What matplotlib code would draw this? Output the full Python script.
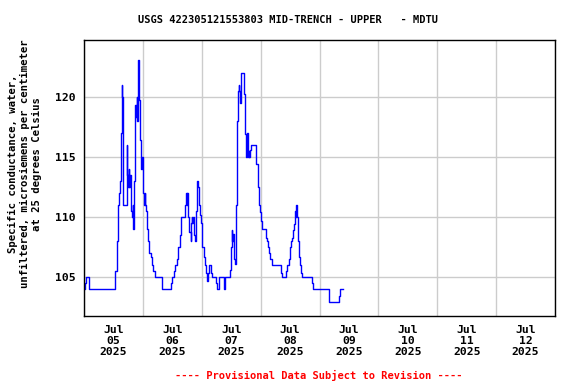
from datetime import datetime, timedelta
from matplotlib import pyplot as plt
import matplotlib.dates as mdates


START = datetime(2025, 7, 5)

# (hours since Jul 05 00:00, value) -- value holds until the next entry
hours = [
    0.0, 0.6, 1.0, 2.0, 12.8, 13.4, 14.0, 14.2, 14.5, 15.0, 15.3, 15.5, 15.6,
    15.9, 16.1, 17.4, 17.7, 17.9, 18.2, 18.5, 18.7, 19.0, 19.3, 19.6, 19.9,
    20.1, 20.4, 20.7, 20.9, 21.2, 21.5, 21.8, 22.0, 22.3, 22.6, 22.9, 23.1,
    23.4, 23.7, 24.0, 24.2, 24.5, 24.8, 25.0, 25.3, 25.5, 26.0, 26.6, 27.2,
    27.6, 28.3, 29.0, 31.6, 35.5, 35.9, 36.5, 37.0, 38.0, 38.5, 39.0, 39.6,
    41.3, 41.6, 41.9, 42.1, 42.4, 42.7, 43.0, 43.5, 43.7, 43.9, 44.2, 44.5,
    44.8, 45.1, 45.5, 45.8, 46.1, 46.4, 46.7, 47.0, 47.3, 47.6, 47.9, 48.3,
    48.8, 49.2, 49.7, 50.2, 50.6, 50.9, 51.8, 52.2, 53.9, 54.3, 55.0, 57.1,
    57.5, 59.5, 60.0, 60.3, 60.5, 60.7, 61.0, 61.3, 61.6, 61.9, 62.2, 62.5,
    62.8, 63.0, 63.3, 63.6, 63.8, 64.1, 65.1, 65.6, 65.9, 66.2, 66.5, 66.8,
    67.1, 67.4, 67.7, 68.1, 70.3, 70.8, 71.1, 71.4, 71.9, 72.2, 72.5, 74.1,
    74.6, 75.0, 75.4, 75.9, 76.5, 80.2, 80.6, 82.5, 82.9, 83.6, 84.1, 84.4,
    84.8, 85.2, 85.6, 85.9, 86.3, 86.6, 86.9, 87.2, 87.5, 87.9, 88.3, 88.7,
    92.9, 93.2, 99.9, 104.0, 104.3, 105.5,
]
values = [
    104, 104.5, 105, 104, 105.5, 108, 111, 112, 113, 117, 121, 117, 120,
    115, 111, 116, 113.5, 112.5, 114, 112.5, 113.5, 111.5, 110.5, 110, 111,
    109, 113, 117.7, 119.3, 118.3, 120, 118, 123, 120, 119.7, 116.4, 115,
    114, 115, 114, 112, 111, 112, 111, 110.5, 109, 108, 107, 106.7,
    106, 105.5, 105, 104, 104.5, 105, 105.5, 106, 106.5, 107.5, 108.5, 110,
    111, 112, 111, 112, 110, 109.5, 108.8, 108, 109.5, 110, 109.5, 110,
    108.5, 108, 109, 110.5, 113, 112.5, 112, 111, 110.2, 109.5, 108.5, 107.5,
    106.7, 106, 105.4, 104.7, 105.4, 106, 105.4, 105, 104.5, 104, 105, 104,
    105, 105.6, 107.5, 108.9, 108, 108.6, 107.2, 106.5, 106.1, 111, 115, 118,
    120.5, 121, 120.5, 119.5, 120.5, 122, 120.2, 116.9, 116.1, 115, 117, 115,
    115.5, 115, 115.6, 116, 114.4, 113, 112.5, 111, 110.4, 109.7, 109, 108.3,
    108, 107.5, 107, 106.5, 106, 105.4, 105, 105.5, 106, 106.5, 107.5, 108,
    108.3, 108.9, 109.4, 110.5, 110, 111, 110, 108, 106.7, 106, 105.4, 105,
    104.5, 104, 103, 103.5, 104, 104,
]

y_ticks = [105, 110, 115, 120]
day_labels = ["Jul\n%02d\n2025" % d for d in range(5, 13)]

TITLE = "USGS 422305121553803 MID-TRENCH - UPPER   - MDTU"
Y_LABEL = ("Specific conductance, water,\n"
           "unfiltered, microsiemens per centimeter\n"
           "at 25 degrees Celsius")
NOTE = "---- Provisional Data Subject to Revision ----"

MONO = dict(family="DejaVu Sans Mono", weight="bold")
TICK_SIZE = 8.2

plt.close("all")
fig = plt.figure(figsize=(5.76, 3.84), dpi=100)
ax = fig.add_axes([84 / 576, 1 - 316 / 384, 471 / 576, 276 / 384])

times = [START + timedelta(hours=h) for h in hours]
ax.plot(times, values, color="#0000ff", linewidth=1.0, drawstyle="steps-post")

ax.set_xlim(START, START + timedelta(days=8))
ax.set_ylim(101.8, 124.7)

# gridlines at midnight, labels at noon
ax.xaxis.set_major_locator(mdates.DayLocator())
ax.xaxis.set_major_formatter(plt.NullFormatter())
noon = [START + timedelta(days=i, hours=12) for i in range(8)]
ax.set_xticks(noon, minor=True)
ax.set_xticklabels(day_labels, minor=True, linespacing=1.12,
                   size=TICK_SIZE, **MONO)
ax.tick_params(axis="x", which="both", length=0)
ax.tick_params(axis="x", which="minor", pad=6.5)

ax.set_yticks(y_ticks)
ax.set_yticklabels([str(v) for v in y_ticks], size=TICK_SIZE, **MONO)
ax.tick_params(axis="y", length=0, pad=5.8)

ax.grid(True, which="major", color="#cccccc", linewidth=1.0)
ax.set_axisbelow(True)
for s in ax.spines.values():
    s.set_color("black")
    s.set_linewidth(1.0)

fig.text(0.5, 1 - 20 / 384, TITLE, ha="center", va="center", size=7.5, **MONO)
fig.text(25 / 576, 1 - 164 / 384, Y_LABEL, ha="center", va="center",
         rotation=90, multialignment="center", linespacing=1.2,
         size=7.7, **MONO)
fig.text(319 / 576, 1 - 375 / 384, NOTE, ha="center", va="center",
         color="red", size=7.5, **MONO)

fig.savefig("out.png", dpi=100)
